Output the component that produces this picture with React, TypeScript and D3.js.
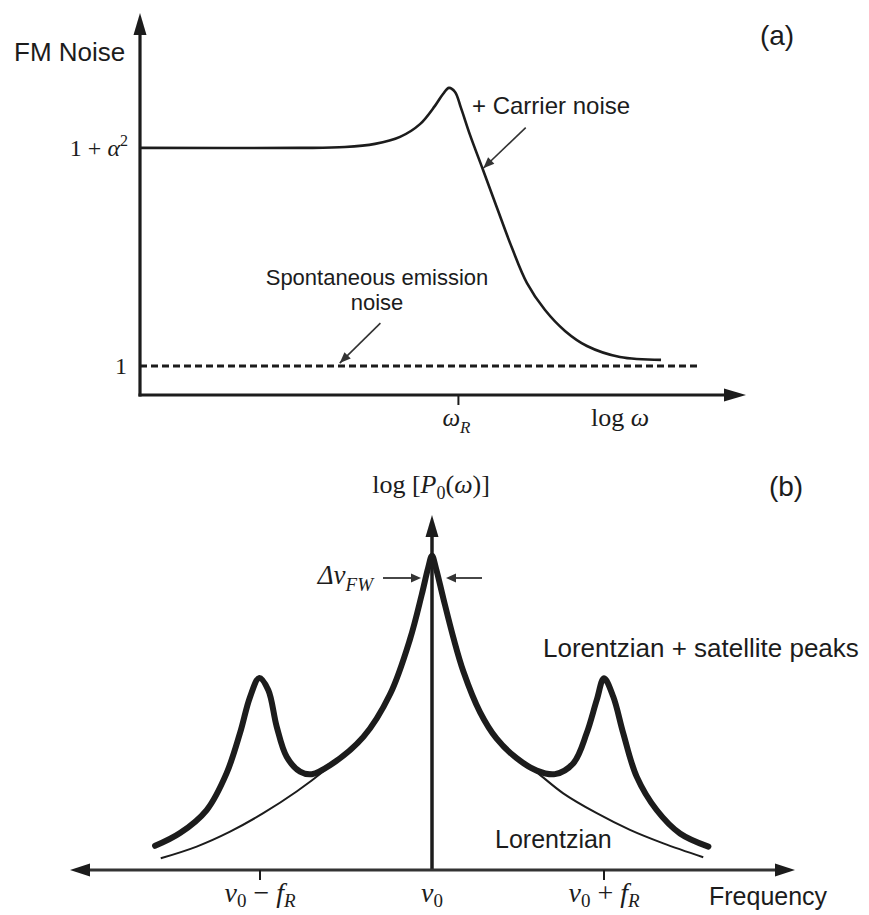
import * as d3 from "d3";

// ---- panel (a): FM noise vs log(omega), x in decades relative to omega_R ----
const fmLogW = [-3.0, -1.493, -1.069, -0.786, -0.55, -0.362, -0.221, -0.145, -0.089, -0.032, 0.024, 0.109, 0.232, 0.364, 0.505, 0.646, 0.816, 1.004, 1.211, 1.522, 1.909];
const fmNoise = [8.52, 8.52, 8.55, 8.66, 8.9, 9.34, 9.97, 10.38, 10.59, 10.45, 9.9, 8.97, 7.76, 6.45, 5.07, 3.86, 2.93, 2.21, 1.69, 1.31, 1.21];
const spontLevel = 1;
const spontRange = [-3.0, 2.25];
const alphaLevel = 8.52;

// ---- panel (b): spectrum, x in units of f_R from nu_0 ----
const totalX = [-1.61, -1.465, -1.31, -1.194, -1.116, -1.058, -1.004, -0.952, -0.903, -0.845, -0.767, -0.699, -0.593, -0.399, -0.244, -0.128, -0.06, -0.023, 0,
  0.023, 0.066, 0.124, 0.182, 0.279, 0.376, 0.492, 0.609, 0.715, 0.822, 0.899, 0.958, 1.0, 1.054, 1.112, 1.19, 1.306, 1.442, 1.607];
const totalY = [0.68, 1.04, 1.69, 2.73, 3.86, 4.87, 5.41, 5.07, 4.04, 3.19, 2.77, 2.7, 2.95, 3.75, 4.95, 6.5, 7.75, 8.5, 8.85,
  8.5, 7.65, 6.55, 5.6, 4.45, 3.7, 3.15, 2.8, 2.7, 3.01, 3.85, 4.79, 5.4, 4.88, 3.85, 2.63, 1.69, 1.03, 0.66];
const lorentzX = [-1.577, -1.368, -1.174, -0.981, -0.787, -0.612, -0.399, -0.244, -0.128, -0.06, -0.023, 0,
  0.023, 0.066, 0.124, 0.182, 0.279, 0.376, 0.492, 0.609, 0.763, 0.958, 1.151, 1.345, 1.577];
const lorentzY = [0.33, 0.66, 1.08, 1.6, 2.21, 2.85, 3.75, 4.95, 6.5, 7.75, 8.5, 8.85,
  8.5, 7.65, 6.55, 5.6, 4.45, 3.7, 3.15, 2.75, 2.16, 1.6, 1.13, 0.75, 0.36];
const freqTicks = [-1, 0, 1];

const ink = "#1c1c1c";
const sans = "'Liberation Sans', Arial, sans-serif";
const serif = "'Liberation Serif', 'Times New Roman', serif";

// filled arrow head pointing from (fx,fy) to the tip (tx,ty)
function head(tx: number, ty: number, fx: number, fy: number, len: number, half: number) {
  const a = Math.atan2(ty - fy, tx - fx);
  const bx = tx - len * Math.cos(a);
  const by = ty - len * Math.sin(a);
  const px = -Math.sin(a) * half;
  const py = Math.cos(a) * half;
  return `M${tx},${ty}L${bx + px},${by + py}L${bx - px},${by - py}Z`;
}

export default function App() {
  // panel a scales
  const xA = d3.scaleLinear().domain([-3, 2.7]).range([140, 745]);
  const yA = d3.scaleLinear().domain([0, 1]).range([395, 366]);
  const lineA = d3.line<number>()
    .x((_, i) => xA(fmLogW[i]))
    .y((d) => yA(d))
    .curve(d3.curveCatmullRom.alpha(0.5));

  // panel b scales
  const xB = d3.scaleLinear().domain([-2.1, 2.1]).range([432 - 2.1 * 172, 432 + 2.1 * 172]);
  const yB = d3.scaleLinear().domain([0, 10]).range([870, 515]);
  const lineTotal = d3.line<number>()
    .x((_, i) => xB(totalX[i]))
    .y((d) => yB(d))
    .curve(d3.curveCatmullRom.alpha(0.5));
  const lineLor = d3.line<number>()
    .x((_, i) => xB(lorentzX[i]))
    .y((d) => yB(d))
    .curve(d3.curveCatmullRom.alpha(0.5));

  const axA = { x0: xA(-3), y0: yA(0), top: 13, right: 746 };
  const car = { fx: xA(0.634), fy: yA(9.22), tx: xA(0.234), ty: yA(7.82) };
  const sp = { fx: xA(-0.735), fy: yA(2.48), tx: xA(-1.118), ty: yA(1.1) };
  const wR = xA(0);

  const axB = { x0: xB(0), y0: yB(0), top: yB(10), left: 70, right: 795 };
  const fwY = 578;
  const labY = 902;

  return (
    <svg width={869} height={915} style={{ position: "absolute", left: 0, top: 0, background: "#fff" }}>
      {/* ---------- (a) ---------- */}
      <g>
        <line x1={axA.x0} y1={axA.y0 + 1.5} x2={axA.x0} y2={axA.top + 15} stroke={ink} strokeWidth={3.2} />
        <path d={head(axA.x0, axA.top, axA.x0, axA.y0, 22, 6.5)} fill={ink} />
        <line x1={axA.x0 - 1.5} y1={axA.y0} x2={axA.right - 15} y2={axA.y0} stroke={ink} strokeWidth={3.2} />
        <path d={head(axA.right, axA.y0, axA.x0, axA.y0, 22, 6.5)} fill={ink} />
        <line x1={wR} y1={axA.y0} x2={wR} y2={axA.y0 + 10} stroke={ink} strokeWidth={2} />

        <line x1={xA(spontRange[0])} x2={xA(spontRange[1])} y1={yA(spontLevel)} y2={yA(spontLevel)}
          stroke={ink} strokeWidth={3} strokeDasharray="7,4" />
        <path d={lineA(fmNoise) ?? ""} fill="none" stroke={ink} strokeWidth={2.6} strokeLinejoin="round" />

        <line x1={car.fx} y1={car.fy} x2={car.tx} y2={car.ty} stroke="#333" strokeWidth={1.6} />
        <path d={head(car.tx, car.ty, car.fx, car.fy, 11, 4.5)} fill="#333" />
        <line x1={sp.fx} y1={sp.fy} x2={sp.tx} y2={sp.ty} stroke="#333" strokeWidth={1.6} />
        <path d={head(sp.tx, sp.ty, sp.fx, sp.fy, 11, 4.5)} fill="#333" />

        <text x={14} y={61} fontFamily={sans} fontSize={26} fill={ink}>FM Noise</text>
        <text x={777} y={45} fontFamily={sans} fontSize={28} fill={ink} textAnchor="middle">(a)</text>
        <text x={128} y={yA(alphaLevel) + 8} fontFamily={serif} fontSize={24} fill={ink} textAnchor="end">
          1 + <tspan fontStyle="italic">α</tspan><tspan dy={-10} fontSize={16}>2</tspan>
        </text>
        <text x={127} y={yA(spontLevel) + 8} fontFamily={serif} fontSize={24} fill={ink} textAnchor="end">1</text>
        <text x={472} y={114} fontFamily={sans} fontSize={24} fill={ink}>+ Carrier noise</text>
        <text x={377} y={285} fontFamily={sans} fontSize={22} fill={ink} textAnchor="middle">Spontaneous emission</text>
        <text x={377} y={310} fontFamily={sans} fontSize={22} fill={ink} textAnchor="middle">noise</text>
        <text x={wR - 2} y={426} fontFamily={serif} fontSize={25} fill={ink} textAnchor="middle" fontStyle="italic">
          ω<tspan dy={7} fontSize={17}>R</tspan>
        </text>
        <text x={591} y={426} fontFamily={serif} fontSize={26} fill={ink}>
          log <tspan fontStyle="italic">ω</tspan>
        </text>
      </g>

      {/* ---------- (b) ---------- */}
      <g>
        <path d={lineLor(lorentzY) ?? ""} fill="none" stroke={ink} strokeWidth={2} />
        <path d={lineTotal(totalY) ?? ""} fill="none" stroke={ink} strokeWidth={6} strokeLinejoin="round" strokeLinecap="round" />

        <line x1={axB.x0} y1={axB.y0} x2={axB.x0} y2={axB.top + 15} stroke={ink} strokeWidth={3.5} />
        <path d={head(axB.x0, axB.top, axB.x0, axB.y0, 22, 6.5)} fill={ink} />
        <line x1={axB.left + 15} y1={axB.y0} x2={axB.right - 15} y2={axB.y0} stroke="#333" strokeWidth={3} />
        <path d={head(axB.right, axB.y0, axB.x0, axB.y0, 20, 6.5)} fill={ink} />
        <path d={head(axB.left, axB.y0, axB.x0, axB.y0, 20, 6.5)} fill={ink} />
        {freqTicks.filter((t) => t !== 0).map((t) => (
          <line key={t} x1={xB(t)} x2={xB(t)} y1={axB.y0} y2={axB.y0 + 10} stroke={ink} strokeWidth={2} />
        ))}

        <line x1={383} y1={fwY} x2={412} y2={fwY} stroke="#333" strokeWidth={1.8} />
        <path d={head(421, fwY, 383, fwY, 10, 4.5)} fill="#333" />
        <line x1={482} y1={fwY} x2={455} y2={fwY} stroke="#333" strokeWidth={1.8} />
        <path d={head(446, fwY, 482, fwY, 10, 4.5)} fill="#333" />

        <text x={373} y={584} fontFamily={serif} fontSize={27} fill={ink} textAnchor="end" fontStyle="italic">
          Δν<tspan dy={7} fontSize={19}>FW</tspan>
        </text>
        <text x={431} y={493} fontFamily={serif} fontSize={26} fill={ink} textAnchor="middle">
          log [<tspan fontStyle="italic">P</tspan><tspan dy={6} fontSize={18}>0</tspan><tspan dy={-6}>(</tspan>
          <tspan fontStyle="italic">ω</tspan>)]
        </text>
        <text x={786} y={496} fontFamily={sans} fontSize={28} fill={ink} textAnchor="middle">(b)</text>
        <text x={543} y={657} fontFamily={sans} fontSize={26} fill={ink}>Lorentzian + satellite peaks</text>
        <text x={495} y={848} fontFamily={sans} fontSize={25} fill={ink}>Lorentzian</text>
        <text x={709} y={905} fontFamily={sans} fontSize={25} fill={ink}>Frequency</text>

        <text x={xB(-1)} y={labY} fontFamily={serif} fontSize={28} fill={ink} textAnchor="middle">
          <tspan fontStyle="italic">ν</tspan><tspan dy={5} fontSize={19}>0</tspan><tspan dy={-5}> − </tspan>
          <tspan fontStyle="italic">f</tspan><tspan dy={5} fontSize={19} fontStyle="italic">R</tspan>
        </text>
        <text x={xB(0)} y={labY} fontFamily={serif} fontSize={28} fill={ink} textAnchor="middle">
          <tspan fontStyle="italic">ν</tspan><tspan dy={5} fontSize={19}>0</tspan>
        </text>
        <text x={xB(1)} y={labY} fontFamily={serif} fontSize={28} fill={ink} textAnchor="middle">
          <tspan fontStyle="italic">ν</tspan><tspan dy={5} fontSize={19}>0</tspan><tspan dy={-5}> + </tspan>
          <tspan fontStyle="italic">f</tspan><tspan dy={5} fontSize={19} fontStyle="italic">R</tspan>
        </text>
      </g>
    </svg>
  );
}
